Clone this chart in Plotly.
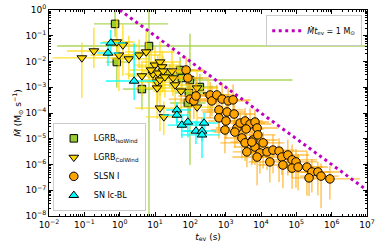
import numpy as np
import plotly.graph_objects as go

# ---------------- data (log10 values) ----------------
# LGRB IsoWind (squares)
iso_logt = [-0.13, -0.08, 0.83, 0.63, 1.71, 1.76, 1.99, 2.27, 1.96, 1.93, 1.42]
iso_logm = [-0.54, -2.02, -1.40, -3.07, -2.33, -2.64, -2.72, -2.99, -3.22, -3.61, -2.49]
iso_xlo = [0.6, 0.3, 2.6, 0.54, 0.4, 0.5, 0.5, 0.4, 0.4, 0.5, 0.3]
iso_xhi = [1.5, 0.3, 6.5, 0.31, 0.4, 0.6, 2.9, 0.5, 0.4, 0.5, 0.4]
iso_ylo = [0.5, 1.0, 7.0, 0.8, 0.5, 0.6, 3.3, 0.6, 0.8, 0.7, 0.5]
iso_yhi = [0.6, 0.66, 2.0, 0.4, 0.5, 0.4, 1.8, 0.5, 0.6, 0.5, 0.4]

# LGRB ColWind (down triangles)
col_logt = [-1.07, -0.73, -0.08, 0.09, -0.02, 0.26, 0.55, 0.75, 0.63, 1.00, 1.14, 1.20, 0.94, 1.08, 1.23,
            1.06, 1.14, 1.06, 1.48, 1.51, 1.74, 2.19, 2.19, 2.50, 1.14, 1.25, 0.89, 1.28, 1.57]
col_logm = [-1.86, -1.59, -1.24, -1.36, -1.75, -1.90, -1.75, -1.63, -2.56, -2.14, -2.02, -2.21, -2.49, -2.45, -2.37,
            -2.80, -2.72, -3.03, -2.37, -2.64, -3.15, -3.03, -3.77, -3.30, -3.81, -4.15, -2.33, -2.60, -2.91]
col_xlo = [0.82, 0.76, 0.4, 0.5, 0.8, 0.5, 0.7, 0.6, 0.4, 0.6, 0.5, 0.7, 0.8, 0.5, 0.6,
           0.7, 0.5, 0.6, 0.7, 0.6, 0.8, 0.7, 0.5, 0.6, 0.7, 0.5, 0.6, 0.5, 0.6]
col_xhi = [1.36, 0.45, 0.5, 0.4, 0.6, 0.6, 0.6, 0.8, 0.4, 0.7, 0.6, 0.5, 0.5, 0.7, 0.8,
           0.6, 0.5, 0.7, 0.9, 0.6, 0.7, 0.6, 0.8, 0.5, 0.6, 0.5, 0.5, 0.6, 0.7]
col_ylo = [1.55, 0.66, 0.6, 1.2, 1.4, 0.8, 0.5, 0.7, 0.8, 0.9, 0.7, 1.0, 0.6, 1.1, 0.8,
           0.9, 0.6, 1.2, 0.8, 0.7, 1.0, 0.6, 0.8, 0.7, 0.9, 0.7, 0.5, 0.8, 1.3]
col_yhi = [0.6, 0.9, 0.9, 0.8, 0.5, 0.9, 0.6, 0.8, 0.6, 0.7, 0.8, 0.6, 0.5, 0.7, 0.6,
           0.5, 0.7, 0.6, 0.8, 0.6, 0.6, 0.7, 0.6, 0.6, 0.8, 0.6, 0.9, 0.7, 0.5]

# SLSN I (circles)
sl_logt = [1.88, 1.93, 1.99, 2.10, 2.16, 2.56, 2.61, 2.75, 2.90, 3.07, 3.21, 2.81, 3.04, 3.24, 2.81,
           3.01, 2.98, 3.32, 3.41, 3.55, 3.69, 3.83, 3.58, 3.89, 3.26, 3.46, 3.55, 3.77, 3.91, 4.06,
           3.83, 3.97, 3.60, 3.74, 4.17, 3.89, 4.25, 4.34, 4.51, 4.59, 4.76, 4.62, 4.88, 4.99, 4.88,
           5.05, 5.30, 5.44, 5.61, 5.70, 5.36, 5.95]
sl_logm = [-2.33, -2.64, -3.46, -3.53, -3.34, -3.30, -3.53, -3.30, -3.46, -3.53, -3.49, -3.88, -3.96, -4.04, -4.19,
           -4.31, -4.66, -4.58, -4.39, -4.31, -4.43, -4.35, -4.62, -4.58, -4.74, -4.97, -5.16, -5.05, -4.85, -5.16,
           -5.32, -5.55, -5.51, -5.13, -5.51, -5.71, -5.90, -5.44, -5.48, -5.71, -5.63, -6.02, -5.82, -5.90, -6.14,
           -6.10, -6.10, -6.29, -6.29, -6.45, -6.52, -6.56]
sl_xlo = [0.4, 0.5, 0.6, 0.4, 0.5, 0.6, 0.5, 0.4, 0.7, 0.5, 0.6, 0.5, 0.7, 0.4, 0.6,
          0.5, 0.4, 0.6, 0.5, 0.7, 0.5, 0.6, 0.4, 0.5, 0.6, 0.5, 0.7, 0.4, 0.6, 0.5,
          0.6, 0.5, 0.4, 0.6, 0.5, 0.7, 0.6, 0.5, 0.4, 0.6, 0.5, 0.7, 0.6, 0.5, 0.4,
          0.6, 0.5, 0.7, 0.5, 0.6, 0.5, 0.6]
sl_xhi = [0.5, 0.6, 0.5, 0.7, 0.4, 0.5, 0.6, 0.5, 0.4, 0.6, 0.5, 0.7, 0.5, 0.6, 0.5,
          0.4, 0.6, 0.5, 0.7, 0.5, 0.6, 0.4, 0.5, 0.6, 0.5, 0.6, 0.5, 0.7, 0.5, 0.6,
          0.5, 0.6, 0.7, 0.5, 0.6, 0.4, 0.5, 0.6, 0.8, 0.5, 0.6, 0.5, 0.7, 0.6, 0.5,
          0.7, 0.6, 0.5, 0.6, 0.5, 0.6, 0.85]
sl_ylo = [0.6, 0.5, 0.8, 0.7, 0.5, 0.9, 0.6, 0.7, 0.5, 0.8, 0.6, 0.7, 0.9, 0.6, 0.8,
          0.7, 0.9, 0.6, 0.8, 0.7, 1.0, 0.6, 0.7, 0.9, 0.6, 0.8, 0.7, 0.9, 0.6, 1.0,
          0.7, 0.8, 0.6, 0.9, 0.7, 1.1, 0.8, 0.9, 1.2, 0.7, 0.8, 0.9, 0.7, 1.0, 0.8,
          0.9, 1.1, 0.8, 0.9, 1.25, 0.7, 0.8]
sl_yhi = [0.5, 0.4, 0.6, 0.5, 0.7, 0.5, 0.6, 0.4, 0.6, 0.5, 0.6, 0.5, 0.4, 0.6, 0.5,
          0.6, 0.5, 0.6, 0.4, 0.5, 0.6, 0.5, 0.6, 0.4, 0.5, 0.6, 0.5, 0.6, 0.5, 0.4,
          0.6, 0.5, 0.4, 0.6, 0.5, 0.6, 0.5, 0.6, 0.5, 0.4, 0.6, 0.5, 0.6, 0.5, 0.4,
          0.5, 0.6, 0.5, 0.4, 0.5, 0.4, 0.5]

# SN Ic-BL (up triangles)
ic_logt = [-0.25, -0.33, 0.41, 1.62, 1.62, 1.76, 1.93, 2.16, 2.33, 2.39, 2.33]
ic_logm = [-1.28, -1.67, -2.76, -3.88, -4.08, -4.47, -4.35, -4.70, -4.70, -4.39, -4.85]
ic_xlo = [0.3, 0.3, 0.8, 0.3, 0.4, 0.4, 0.3, 0.4, 0.5, 0.3, 0.6]
ic_xhi = [0.4, 0.3, 0.6, 0.4, 0.3, 0.5, 0.4, 0.3, 0.4, 0.4, 0.5]
ic_ylo = [0.4, 0.5, 0.74, 0.5, 0.4, 0.5, 0.6, 0.5, 0.4, 0.5, 0.9]
ic_yhi = [0.5, 0.4, 1.47, 0.3, 0.4, 0.4, 0.3, 0.4, 0.5, 0.4, 0.3]

# Mdot * t_ev = 1 Msun line
line_t = [1e0, 1e7]

xtick_exp = list(range(-2, 8))
ytick_exp = list(range(-8, 1))


def errs(logv, lo, hi):
    v = 10 ** np.array(logv)
    minus = v - v * 10 ** (-np.array(lo))
    plus = v * 10 ** np.array(hi) - v
    return v, plus, minus


fig = go.Figure()


def add_series(logt, logm, xlo, xhi, ylo, yhi, name, symbol, face, barcol, size):
    x, xp, xm = errs(logt, xlo, xhi)
    y, yp, ym = errs(logm, ylo, yhi)
    fig.add_trace(go.Scatter(
        x=x, y=y, mode="markers", name=name,
        marker=dict(symbol=symbol, color=face, size=size,
                    line=dict(color="black", width=1)),
        error_x=dict(type="data", symmetric=False, array=xp, arrayminus=xm,
                     color=barcol, thickness=1.4, width=0),
        error_y=dict(type="data", symmetric=False, array=yp, arrayminus=ym,
                     color=barcol, thickness=1.4, width=0),
        legend="legend",
    ))


add_series(iso_logt, iso_logm, iso_xlo, iso_xhi, iso_ylo, iso_yhi,
           "LGRB<sub>IsoWind</sub>", "square", "#9acd32", "rgba(154,205,50,0.8)", 7.5)
add_series(col_logt, col_logm, col_xlo, col_xhi, col_ylo, col_yhi,
           "LGRB<sub>ColWind</sub>", "triangle-down", "#ffd700", "rgba(255,215,0,0.8)", 8.5)
add_series(sl_logt, sl_logm, sl_xlo, sl_xhi, sl_ylo, sl_yhi,
           "SLSN I", "circle", "#ffa500", "rgba(255,165,0,0.7)", 8.5)
add_series(ic_logt, ic_logm, ic_xlo, ic_xhi, ic_ylo, ic_yhi,
           "SN Ic-BL", "triangle-up", "#00ffff", "rgba(0,255,255,0.9)", 8.5)

lt = np.array(line_t)
fig.add_trace(go.Scatter(
    x=lt, y=1.0 / lt, mode="lines",
    name="<i>Ṁt</i><sub>ev</sub> = 1 M<sub>⊙</sub>",
    line=dict(color="#bf00bf", width=3, dash="3px,3.5px"),
    legend="legend2",
))

minor_x = [k * 10.0 ** n for n in range(-2, 7) for k in range(2, 10)]
minor_y = [k * 10.0 ** n for n in range(-8, 0) for k in range(2, 10)]

axis_common = dict(
    type="log", showgrid=False, zeroline=False, automargin=False,
    showline=True, linecolor="black", linewidth=1, mirror="allticks",
    ticks="inside", ticklen=4, tickcolor="black", tickwidth=1,
    tickfont=dict(family="DejaVu Sans", size=9, color="black"),
)

fig.update_layout(
    width=382, height=251,
    margin=dict(l=49, r=15, t=10, b=35, autoexpand=False),
    paper_bgcolor="white", plot_bgcolor="white",
    font=dict(family="DejaVu Sans", size=9, color="black"),
    xaxis=dict(
        **axis_common,
        range=[-2, 7],
        tickmode="array",
        tickvals=[10.0 ** e for e in xtick_exp],
        ticktext=[f"10<sup>{str(e).replace('-', '−')}</sup>" for e in xtick_exp],
        minor=dict(tickmode="array", tickvals=minor_x, ticks="inside", ticklen=2,
                   tickcolor="black", showgrid=False),
        title=dict(text="<i>t</i><sub>ev</sub> (s)", standoff=4,
                   font=dict(family="DejaVu Sans", size=9)),
    ),
    yaxis=dict(
        **axis_common,
        range=[-8, 0],
        tickmode="array",
        tickvals=[10.0 ** e for e in ytick_exp],
        ticktext=[f"10<sup>{str(e).replace('-', '−')}</sup>" for e in ytick_exp],
        minor=dict(tickmode="array", tickvals=minor_y, ticks="inside", ticklen=2,
                   tickcolor="black", showgrid=False),
        title=dict(text="<i>Ṁ</i> (M<sub>⊙</sub> s<sup>−1</sup>)", standoff=2,
                   font=dict(family="DejaVu Sans", size=9)),
    ),
    legend=dict(
        x=0.012, y=0.025, xanchor="left", yanchor="bottom",
        bgcolor="rgba(255,255,255,0.85)", bordercolor="#cccccc", borderwidth=1,
        font=dict(family="DejaVu Sans", size=8), tracegroupgap=0,
        itemwidth=30,
    ),
    legend2=dict(
        x=0.985, y=0.975, xanchor="right", yanchor="top",
        bgcolor="rgba(255,255,255,0.85)", bordercolor="#cccccc", borderwidth=1,
        font=dict(family="DejaVu Sans", size=8),
        itemwidth=30,
    ),
)

fig.write_html("out.html",
               config={"displayModeBar": False},
               post_script="document.body.style.margin='0';document.body.style.padding='0';")
